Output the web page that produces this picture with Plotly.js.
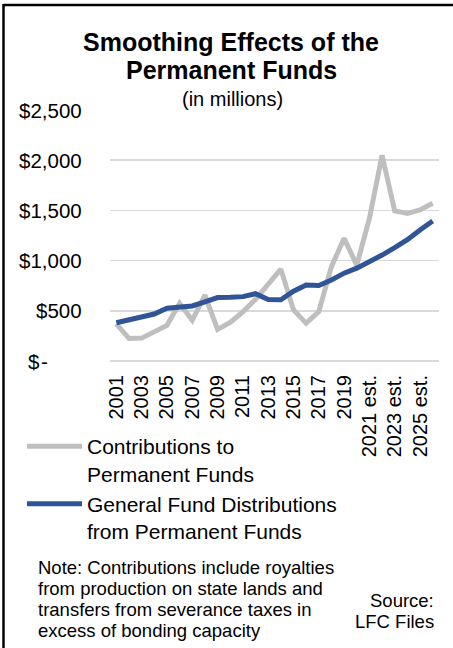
<!DOCTYPE html>
<html><head><meta charset="utf-8">
<script src="https://cdn.plot.ly/plotly-3.0.1.min.js"></script>
<style>html,body{margin:0;padding:0;background:#fff}#chart{width:453px;height:648px}</style>
</head><body><div id="chart"></div><script>
const years = ["2001","2002","2003","2004","2005","2006","2007","2008","2009","2010",
  "2011","2012","2013","2014","2015","2016","2017","2018","2019","2020",
  "2021 est.","2022 est.","2023 est.","2024 est.","2025 est.","2026 est."];
const contributions = [370,225,228,290,355,575,405,655,315,385,
  490,615,765,915,510,375,491,940,1222,955,
  1420,2050,1495,1470,1505,1572];
const distributions = [381,413,445,468,525,538,548,588,632,634,
  641,670,612,610,695,757,752,807,875,925,
  985,1055,1130,1209,1305,1394];
const xTickVals = ["2001","2003","2005","2007","2009","2011","2013","2015","2017","2019","2021 est.","2023 est.","2025 est."];
const yTickVals = [0,500,1000,1500,2000,2500];
const yTickText = ["-","$500","$1,000","$1,500","$2,000","$2,500"];
const seriesNames = ["Contributions to<br>Permanent Funds","General Fund Distributions<br>from Permanent Funds"];
const titleLines = ["Smoothing Effects of the","Permanent Funds"];
const subtitleText = "(in millions)";
const noteLines = ["Note: Contributions include royalties","from production on state lands and","transfers from severance taxes in","excess of bonding capacity"];
const sourceLines = ["Source:","LFC Files"];

const L=110, R=439, T=110, B=361, W=453, H=648;
const px = x => (x-L)/(R-L);
const py = y => (B-y)/(B-T);
const FONT = "Liberation Sans, Arial, sans-serif";

const traces = [
  {x: years, y: contributions, type:'scatter', mode:'lines', name: seriesNames[0],
   line:{color:'#bfbfbf', width:5}},
  {x: years, y: distributions, type:'scatter', mode:'lines', name: seriesNames[1],
   line:{color:'#2f5597', width:5}}
];

const annotations = [];
yTickVals.forEach((v,i)=>{
  if (v === 0) {
    annotations.push({xref:'paper', yref:'y', x:px(26), y:v, xanchor:'left', yanchor:'middle',
      text:'$', showarrow:false, font:{size:20.5, color:'#000', family:FONT}});
    annotations.push({xref:'paper', yref:'y', x:px(50), y:v, xanchor:'right', yanchor:'middle',
      text:yTickText[i], showarrow:false, font:{size:20.5, color:'#000', family:FONT}});
  } else {
    annotations.push({xref:'paper', yref:'y', x:px(84), y:v, xanchor:'right', yanchor:'middle',
      text:yTickText[i], showarrow:false, font:{size:20.5, color:'#000', family:FONT}});
  }
});
annotations.push({xref:'paper', yref:'paper', x:px(231), y:py(70), xanchor:'center', yanchor:'middle',
  text:'<b>'+titleLines[1]+'</b>', showarrow:false, font:{size:25, color:'#000', family:FONT}});
annotations.push({xref:'paper', yref:'paper', x:px(232), y:py(99), xanchor:'center', yanchor:'middle',
  text:subtitleText, showarrow:false, font:{size:20, color:'#000', family:FONT}});
noteLines.forEach((t,i)=>{
  annotations.push({xref:'paper', yref:'paper', x:px(36), y:py(567+21*i), xanchor:'left', yanchor:'middle',
    text:t, showarrow:false, font:{size:18.5, color:'#000', family:FONT}});
});
sourceLines.forEach((t,i)=>{
  annotations.push({xref:'paper', yref:'paper', x:px(436), y:py(600+21*i), xanchor:'right', yanchor:'middle',
    text:t, showarrow:false, font:{size:18.5, color:'#000', family:FONT}});
});

const layout = {
  width: W, height: H,
  margin: {l:L, r:W-R, t:T, b:H-B, pad:0},
  paper_bgcolor:'#fff', plot_bgcolor:'#fff',
  font:{family:FONT, color:'#000', size:20},
  title:{text:'<b>'+titleLines[0]+'</b>', font:{size:25, color:'#000', family:FONT},
    xref:'container', x:231/W, xanchor:'center', yref:'container', y:1-42/H, yanchor:'middle'},
  xaxis:{type:'category', range:[-0.5,25.5], tickmode:'array', tickvals:xTickVals, ticktext:xTickVals,
    tickangle:-90, showgrid:false, zeroline:false, showline:false, ticks:'',
    ticklabelstandoff:9, tickfont:{size:20, color:'#000', family:FONT}, fixedrange:true},
  yaxis:{range:[0,2500], tickmode:'array', tickvals:yTickVals, showticklabels:false,
    showgrid:true, gridcolor:'#d9d9d9', gridwidth:1.5, zeroline:true, zerolinecolor:'#d9d9d9', zerolinewidth:1.5,
    showline:false, ticks:'', fixedrange:true},
  showlegend:true,
  legend:{xref:'paper', yref:'paper', x:px(22), y:py(426), xanchor:'left', yanchor:'top',
    font:{size:21, color:'#000', family:FONT}, valign:'top', itemwidth:55, bgcolor:'rgba(0,0,0,0)',
    traceorder:'normal'},
  annotations: annotations,
  shapes:[
    {type:'line', xref:'paper', yref:'paper', x0:px(3.5), x1:px(453), y0:py(5), y1:py(5), line:{color:'#000', width:2.5}},
    {type:'line', xref:'paper', yref:'paper', x0:px(3.5), x1:px(3.5), y0:py(4), y1:py(648), line:{color:'#000', width:2.5}}
  ]
};
Plotly.newPlot('chart', traces, layout, {displayModeBar:false, staticPlot:true});
</script></body></html>
